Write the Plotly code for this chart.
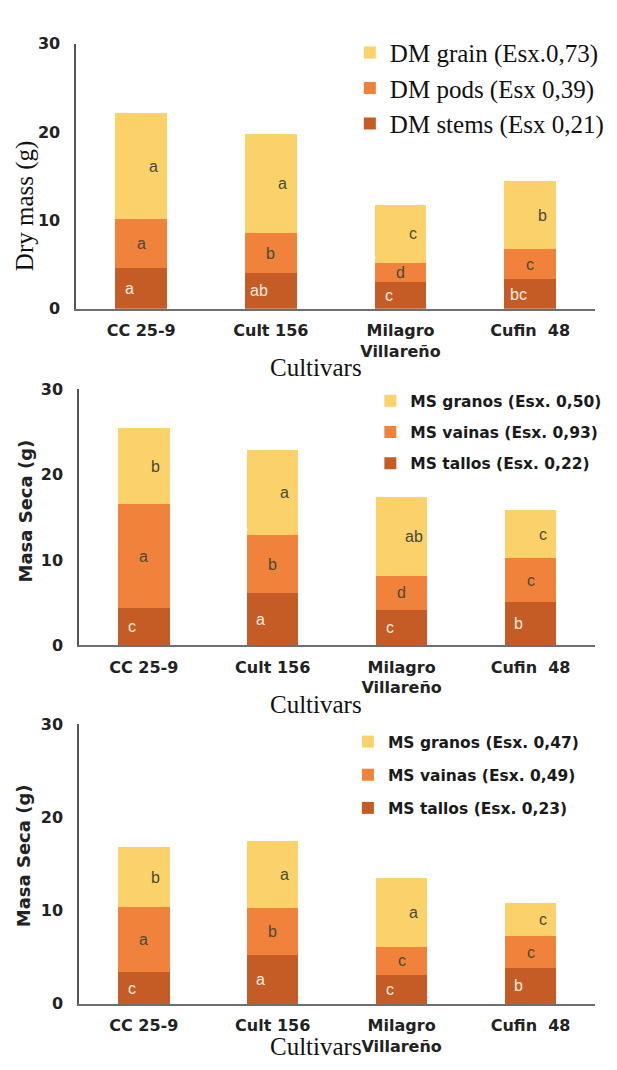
import plotly.graph_objects as go

# The page keeps the browser's default 8px body margin, so the figure is
# sized to fill the 617x1070 window exactly; reference pixels are shifted by OFF.
OFF = 8
W, H = 617 - 2 * OFF, 1070 - 2 * OFF

cultivars = ["CC 25-9", "Cult 156", "Milagro Villareño", "Cufin  48"]
tick_labels = ["CC 25-9", "Cult 156", "Milagro<br>Villareño", "Cufin\u00a0 48"]
y_ticks = [0, 10, 20, 30]

# Panel 1 (English)
p1_stems = [4.55, 4.0, 3.0, 3.3]
p1_pods = [5.55, 4.55, 2.2, 3.4]
p1_grain = [12.0, 11.25, 6.5, 7.7]
p1_let_stems = ["a", "ab", "c", "bc"]
p1_let_pods = ["a", "b", "d", "c"]
p1_let_grain = ["a", "a", "c", "b"]
p1_names = ["DM stems (Esx 0,21)", "DM pods (Esx 0,39)", "DM grain (Esx.0,73)"]
p1_ytitle = "Dry mass (g)"

# Panel 2 (Spanish)
p2_stems = [4.4, 6.1, 4.2, 5.05]
p2_pods = [12.1, 6.85, 3.9, 5.15]
p2_grain = [8.9, 9.95, 9.3, 5.6]
p2_let_stems = ["c", "a", "c", "b"]
p2_let_pods = ["a", "b", "d", "c"]
p2_let_grain = ["b", "a", "ab", "c"]
p2_names = ["MS tallos (Esx. 0,22)", "MS vainas (Esx. 0,93)", "MS granos (Esx. 0,50)"]
p2_ytitle = "Masa Seca (g)"

# Panel 3 (Spanish)
p3_stems = [3.4, 5.2, 3.15, 3.85]
p3_pods = [7.0, 5.1, 2.95, 3.4]
p3_grain = [6.4, 7.2, 7.4, 3.55]
p3_let_stems = ["c", "a", "c", "b"]
p3_let_pods = ["a", "b", "c", "c"]
p3_let_grain = ["b", "a", "a", "c"]
p3_names = ["MS tallos (Esx. 0,23)", "MS vainas (Esx. 0,49)", "MS granos (Esx. 0,47)"]
p3_ytitle = "Masa Seca (g)"

x_title = "Cultivars"

colors = ["#C55C26", "#F0823C", "#FAD269"]
letter_colors = ["#F8ECE0", "#4A4A3C", "#4A4A3C"]
letter_shift = [-12, 0, 12]
legend_rank = [3, 2, 1]

SERIF = "Liberation Serif, Times New Roman, serif"
SANSB = "DejaVu Sans, Arial, sans-serif"
SANS = "Liberation Sans, Arial, sans-serif"

# pixel geometry of each panel (in reference-image pixels)
geom = [
    dict(x0=78, x1=614, yb=305, yt=35, ytx=25, yty=200, xtitle_y=365,
         leg_x=358, leg_y=21, ytitle_font=dict(family=SERIF, size=25, color="#111111"),
         leg_font=dict(family=SERIF, size=25, color="#111111"), gap=0),
    dict(x0=81, x1=611, yb=648, yt=387, ytx=26, yty=511, xtitle_y=708,
         leg_x=379, leg_y=382, ytitle_font=dict(family=SANSB, size=18, color="#222222", weight="bold"),
         leg_font=dict(family=SANSB, size=15.5, color="#1a1a1a", weight="bold"), gap=8),
    dict(x0=81, x1=614, yb=1013, yt=728, ytx=24, yty=862, xtitle_y=1056,
         leg_x=356, leg_y=729, ytitle_font=dict(family=SANSB, size=18, color="#222222", weight="bold"),
         leg_font=dict(family=SANSB, size=15.5, color="#1a1a1a", weight="bold"), gap=10),
]


def px(x):
    return min(max((x - OFF) / W, 0.0), 1.0)


def py(y):
    return min(max(1 - (y - OFF) / H, 0.0), 1.0)


panels = [
    (p1_stems, p1_pods, p1_grain, p1_let_stems, p1_let_pods, p1_let_grain, p1_names, p1_ytitle),
    (p2_stems, p2_pods, p2_grain, p2_let_stems, p2_let_pods, p2_let_grain, p2_names, p2_ytitle),
    (p3_stems, p3_pods, p3_grain, p3_let_stems, p3_let_pods, p3_let_grain, p3_names, p3_ytitle),
]

fig = go.Figure()
layout = dict(
    width=W, height=H, margin=dict(l=0, r=0, t=0, b=0),
    paper_bgcolor="white", plot_bgcolor="white",
    barmode="stack", bargap=0.6, showlegend=True,
)
annotations = []

for i, (stems, pods, grain, ls, lp, lg, names, ytitle) in enumerate(panels):
    g = geom[i]
    sfx = "" if i == 0 else str(i + 1)
    xa, ya = "x" + sfx, "y" + sfx
    leg = "legend" + sfx
    series = [stems, pods, grain]
    letters = [ls, lp, lg]
    base = [0.0] * len(cultivars)
    for k, (vals, name) in enumerate(zip(series, names)):
        fig.add_trace(go.Bar(
            x=cultivars, y=vals, name=name, xaxis=xa, yaxis=ya,
            marker=dict(color=colors[k], line=dict(width=0)),
            legend=leg, legendgroup=f"p{i}s{k}", legendrank=legend_rank[k],
            hoverinfo="skip",
        ))
        for j, c in enumerate(cultivars):
            annotations.append(dict(
                x=c, y=base[j] + vals[j] / 2, xref=xa, yref=ya,
                text=letters[k][j], showarrow=False, xshift=letter_shift[k],
                font=dict(family=SANS, size=16, color=letter_colors[k]),
            ))
            base[j] += vals[j]

    layout["xaxis" + sfx] = dict(
        domain=[px(g["x0"]), px(g["x1"])], anchor=ya,
        categoryorder="array", categoryarray=cultivars,
        tickvals=cultivars, ticktext=tick_labels,
        showline=True, linecolor="#6E6E6E", linewidth=2,
        showgrid=False, zeroline=False, ticks="",
        ticklabelstandoff=6,
        tickfont=dict(family=SANSB, size=16, color="#222222", weight="bold"),
    )
    layout["yaxis" + sfx] = dict(
        domain=[py(g["yb"]), py(g["yt"])], anchor=xa,
        range=[0, 30], tickvals=y_ticks,
        showline=True, linecolor="#555555", linewidth=2,
        showgrid=False, zeroline=False, ticks="",
        ticklabelstandoff=11,
        tickfont=dict(family=SANSB, size=16, color="#222222", weight="bold"),
    )
    layout[leg] = dict(
        x=px(g["leg_x"]), xanchor="left", y=py(g["leg_y"]), yanchor="top",
        bgcolor="rgba(0,0,0,0)", font=g["leg_font"],
        traceorder="grouped", tracegroupgap=g["gap"], itemwidth=30,
    )
    annotations.append(dict(
        x=px(g["ytx"]), y=py(g["yty"]), xref="paper", yref="paper",
        xanchor="center", yanchor="middle",
        text=ytitle, textangle=-90, showarrow=False, font=g["ytitle_font"],
    ))
    annotations.append(dict(
        x=px(323), y=py(g["xtitle_y"]), xref="paper", yref="paper",
        xanchor="center", yanchor="middle",
        text=x_title, showarrow=False,
        font=dict(family=SERIF, size=25, color="#111111"),
    ))

layout["annotations"] = annotations
fig.update_layout(**layout)
fig.write_html("out.html", config={"displayModeBar": False})
